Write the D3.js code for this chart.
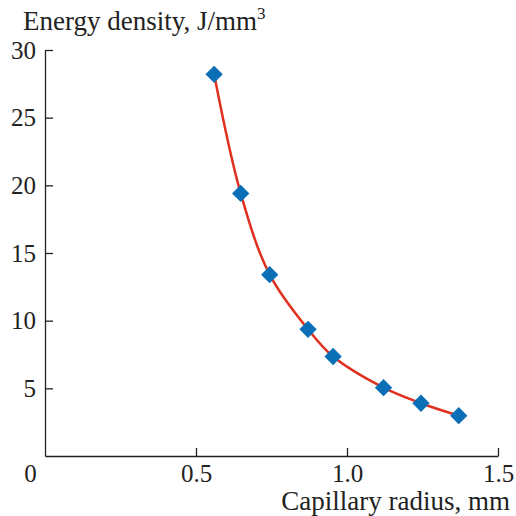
<!DOCTYPE html>
<html>
<head>
<meta charset="utf-8">
<script src="https://cdn.jsdelivr.net/npm/d3@7"></script>
<style>
  body { margin: 0; background: #fff; }
  svg { display: block; font-family: 'Liberation Serif', 'Times New Roman', serif; }
</style>
</head>
<body>
<svg width="516" height="516"></svg>
<script>
// capillary radius, mm
const radius = [0.56, 0.648, 0.744, 0.871, 0.954, 1.121, 1.245, 1.37]
// energy density, J/mm^3
const density = [28.2, 19.4, 13.4, 9.36, 7.35, 5.05, 3.9, 2.98]
const xTicks = [0, 0.5, 1.0, 1.5]
const yTicks = [5, 10, 15, 20, 25, 30]

const svg = d3.select('svg')
const x = d3.scaleLinear().domain([0, 1.5]).range([45, 498])
const y = d3.scaleLinear().domain([0, 30]).range([456, 50])

const fontSize = 25

// x axis, ticks pointing up
const xAxis = svg.append('g')
  .attr('transform', `translate(0,${y(0)})`)
  .call(d3.axisBottom(x).tickValues(xTicks).tickSizeInner(-8).tickSizeOuter(0)
    .tickPadding(8).tickFormat((d) => (d === 0 ? '0' : d3.format('.1f')(d))))
  .attr('font-family', null).attr('font-size', fontSize)
xAxis.selectAll('text').attr('fill', '#222').attr('dy', '0.71em')
xAxis.selectAll('.tick').filter((d) => d === 0).select('text').attr('x', -15)
xAxis.selectAll('.tick').filter((d) => d === 0).select('line').remove()

// y axis, ticks pointing right
const yAxis = svg.append('g')
  .attr('transform', `translate(${x(0)},0)`)
  .call(d3.axisLeft(y).tickValues(yTicks).tickSizeInner(-8).tickSizeOuter(0).tickPadding(9))
  .attr('font-family', null).attr('font-size', fontSize)
yAxis.selectAll('text').attr('fill', '#222')

svg.selectAll('.domain, .tick line').attr('stroke', '#222').attr('stroke-width', 1.3)

// the curve
const pts = radius.map((r, i) => [r, density[i]])
const line = d3.line()
  .x((d) => x(d[0]))
  .y((d) => y(d[1]))
  .curve(d3.curveCatmullRom.alpha(0.5))

svg.append('path')
  .datum(pts)
  .attr('fill', 'none')
  .attr('stroke', '#e0301e')
  .attr('stroke-width', 2.5)
  .attr('d', line)

// diamond markers
svg.append('g').selectAll('path')
  .data(pts)
  .join('path')
  .attr('transform', (d) => `translate(${x(d[0])},${y(d[1])}) rotate(45)`)
  .attr('d', d3.symbol(d3.symbolSquare, 150))
  .attr('fill', '#0a6fb7')

// axis titles
const title = svg.append('text')
  .attr('x', 23).attr('y', 30)
  .attr('font-size', 27).attr('fill', '#222')
title.append('tspan').text('Energy density, J/mm')
title.append('tspan').text('3').attr('font-size', 17).attr('dy', -11)

svg.append('text')
  .attr('x', 510).attr('y', 510)
  .attr('text-anchor', 'end')
  .attr('font-size', 27).attr('fill', '#222')
  .text('Capillary radius, mm')
</script>
</body>
</html>
